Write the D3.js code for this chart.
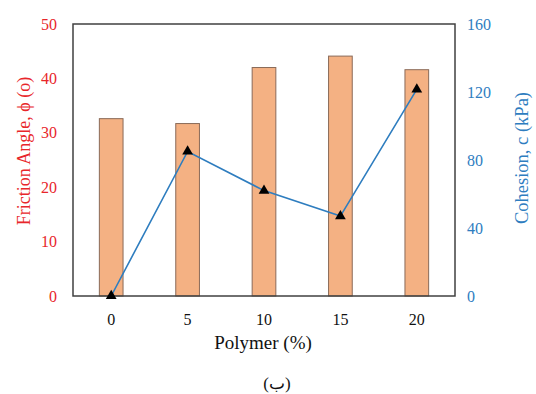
<!DOCTYPE html>
<html>
<head>
<meta charset="utf-8">
<script src="https://cdn.jsdelivr.net/npm/d3@7"></script>
<style>
  body { margin: 0; background: #fff; }
  svg text { font-family: "Liberation Serif", "Times New Roman", "DejaVu Serif", serif !important; }
</style>
</head>
<body>
<svg id="chart" width="536" height="394"></svg>
<script>
// Polymer content (%) and measured shear strength parameters
const polymer = ["0", "5", "10", "15", "20"];
const frictionAngle = [32.6, 31.7, 42.0, 44.1, 41.6];   // degrees, bars (left axis)
const cohesion = [0, 85, 62, 47, 121.5];                 // kPa, line (right axis)
const leftTicks = [0, 10, 20, 30, 40, 50];
const rightTicks = [0, 40, 80, 120, 160];

const red = "#e8262a";
const blue = "#2e7dbf";

const svg = d3.select("#chart");
const m = { left: 73, right: 455, top: 24, bottom: 296 };

const x = d3.scaleBand().domain(polymer).range([m.left, m.right]).paddingInner(0.69).paddingOuter(0.345);
const yL = d3.scaleLinear().domain([0, 50]).range([m.bottom, m.top]);
const yR = d3.scaleLinear().domain([0, 160]).range([m.bottom, m.top]);

// bars
svg.append("g").selectAll("rect").data(polymer).join("rect")
  .attr("x", d => x(d))
  .attr("width", x.bandwidth())
  .attr("y", (d, i) => yL(frictionAngle[i]))
  .attr("height", (d, i) => yL(0) - yL(frictionAngle[i]))
  .attr("fill", "#f4b183")
  .attr("stroke", "#8a6a58")
  .attr("stroke-width", 1);

// plot frame
svg.append("rect")
  .attr("x", m.left).attr("y", m.top)
  .attr("width", m.right - m.left).attr("height", m.bottom - m.top)
  .attr("fill", "none").attr("stroke", "#404040").attr("stroke-width", 1.5);

// cohesion line
const cx = d => x(d) + x.bandwidth() / 2;
svg.append("path")
  .datum(polymer)
  .attr("fill", "none")
  .attr("stroke", blue)
  .attr("stroke-width", 1.6)
  .attr("d", d3.line().x(d => cx(d)).y((d, i) => yR(cohesion[i])));

svg.append("g").selectAll("path").data(polymer).join("path")
  .attr("transform", (d, i) => `translate(${cx(d)},${yR(cohesion[i])})`)
  .attr("d", d3.symbol(d3.symbolTriangle, 50))
  .attr("fill", "#000");

// left axis
const gL = svg.append("g").attr("transform", `translate(${m.left},0)`)
  .call(d3.axisLeft(yL).tickValues(leftTicks).tickSize(0).tickPadding(16));
gL.select(".domain").remove();
gL.selectAll("text").attr("fill", red).style("font-size", "16px");

// right axis
const gR = svg.append("g").attr("transform", `translate(${m.right},0)`)
  .call(d3.axisRight(yR).tickValues(rightTicks).tickSize(0).tickPadding(12));
gR.select(".domain").remove();
gR.selectAll("text").attr("fill", blue).style("font-size", "16px");

// bottom axis
const gB = svg.append("g").attr("transform", `translate(0,${m.bottom})`)
  .call(d3.axisBottom(x).tickSize(0).tickPadding(18));
gB.select(".domain").remove();
gB.selectAll("text").attr("fill", "#111").style("font-size", "16px");

// axis titles
svg.append("text")
  .attr("transform", `translate(30,151) rotate(-90)`)
  .attr("text-anchor", "middle").attr("fill", red).style("font-size", "18px")
  .text("Friction Angle, ϕ (o)");

svg.append("text")
  .attr("transform", `translate(528,158) rotate(-90)`)
  .attr("text-anchor", "middle").attr("fill", blue).style("font-size", "18.5px")
  .text("Cohesion, c (kPa)");

svg.append("text")
  .attr("x", 263).attr("y", 349)
  .attr("text-anchor", "middle").attr("fill", "#111").style("font-size", "19px")
  .text("Polymer (%)");

svg.append("text")
  .attr("x", 277).attr("y", 389)
  .attr("text-anchor", "middle").attr("fill", "#111").style("font-size", "17px")
  .text("(ب)");
</script>
</body>
</html>
